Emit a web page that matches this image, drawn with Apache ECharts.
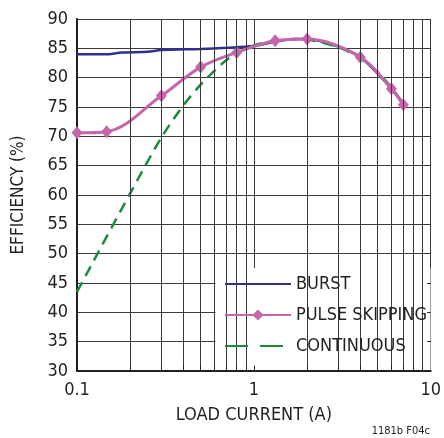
<!DOCTYPE html>
<html>
<head>
<meta charset="utf-8">
<script src="https://cdn.jsdelivr.net/npm/echarts@6/dist/echarts.min.js"></script>
<style>
  html, body { margin: 0; padding: 0; background: #fff; }
  #chart { width: 444px; height: 438px; }
</style>
</head>
<body>
<div id="chart"></div>
<script>
// values
const burstX = [0.1, 0.15, 0.18, 0.25, 0.3, 0.5, 0.7, 1, 1.3, 1.7, 2, 3, 4, 6, 7]
const burstY = [84.0, 84.0, 84.3, 84.4, 84.7, 84.9, 85.1, 85.4, 86.1, 86.6, 86.6, 85.3, 83.5, 78.1, 75.4]

const pulseX = [0.1, 0.147, 0.3, 0.5, 0.8, 1.32, 2, 4, 6, 7]
const pulseY = [70.6, 70.8, 76.9, 81.8, 84.3, 86.3, 86.6, 83.5, 78.1, 75.4]

const contX = [0.1, 0.2, 0.3, 0.4, 0.5, 0.6, 0.7, 0.8, 1, 1.3, 1.7, 2, 3, 4, 5, 6, 7]
const contY = [43.5, 60.3, 69.8, 75.3, 78.8, 81.2, 83.0, 84.2, 85.5, 86.3, 86.6, 86.5, 85.2, 83.3, 81.0, 78.3, 75.6]

const minorX = [0.2, 0.3, 0.4, 0.5, 0.6, 0.7, 0.8, 0.9, 2, 3, 4, 5, 6, 7, 8, 9]
const rightTickY = [35, 40, 45]

const FONT = '"Liberation Sans Narrow", "DejaVu Sans Condensed", "Liberation Sans", sans-serif'
const INK = '#231f20'
const GRID = '#3a3a3a'

const zip = (xs, ys) => xs.map((x, i) => [x, ys[i]])

const chart = echarts.init(document.getElementById('chart'), null, { renderer: 'canvas' })

// short inner ticks, only visible where the legend box hides the grid
const bottomTicks = minorX.concat([1]).map(x => [{ coord: [x, 30] }, { coord: [x, 30.9] }])
const rightTicks = rightTickY.map(y => [{ coord: [9.55, y] }, { coord: [10, y] }])

chart.setOption({
  animation: false,
  grid: { left: 77, right: 13, top: 19, bottom: 67 },
  xAxis: {
    type: 'log',
    logBase: 10,
    min: 0.1,
    max: 10,
    name: 'LOAD CURRENT (A)',
    nameLocation: 'middle',
    nameGap: 35,
    nameTextStyle: { fontFamily: FONT, fontSize: 18, color: INK },
    axisLine: { lineStyle: { color: INK, width: 2 } },
    axisTick: { show: false },
    axisLabel: { fontFamily: FONT, fontSize: 18, color: INK, margin: 10 },
    splitLine: { show: true, lineStyle: { color: GRID, width: 1 } },
  },
  yAxis: {
    type: 'value',
    min: 30,
    max: 90,
    interval: 5,
    name: 'EFFICIENCY (%)',
    nameLocation: 'middle',
    nameGap: 50,
    nameTextStyle: { fontFamily: FONT, fontSize: 17, color: INK },
    axisLine: { show: true, lineStyle: { color: INK, width: 2 } },
    axisTick: { show: false },
    axisLabel: { fontFamily: FONT, fontSize: 18, color: INK, margin: 9 },
    splitLine: { show: true, lineStyle: { color: GRID, width: 1 } },
  },
  legend: {
    orient: 'vertical',
    left: 224,
    top: 274,
    padding: 0,
    itemWidth: 66,
    itemHeight: 14,
    itemGap: 11,
    z: 6,
    textStyle: { fontFamily: FONT, fontSize: 18, color: INK, lineHeight: 20 },
    data: [
      { name: 'BURST', itemStyle: { opacity: 0 } },
      { name: 'PULSE SKIPPING' },
      { name: 'CONTINUOUS', itemStyle: { opacity: 0 }, lineStyle: { type: [23, 12] } },
    ],
  },
  graphic: {
    elements: [
      {
        type: 'rect',
        z: 3,
        silent: true,
        shape: { x: 215.5, y: 268, width: 215, height: 102 },
        style: { fill: '#fff' },
      },
      {
        type: 'text',
        right: 14,
        top: 426,
        style: { text: '1181b F04c', font: '11px ' + FONT, fill: INK },
      },
    ],
  },
  series: [
    {
      // minor log gridlines
      name: '__grid',
      type: 'line',
      data: [[1, 30]],
      symbol: 'none',
      lineStyle: { opacity: 0 },
      silent: true,
      z: 1,
      markLine: {
        silent: true,
        symbol: 'none',
        label: { show: false },
        lineStyle: { color: GRID, width: 1, type: 'solid' },
        data: minorX.map(x => ({ xAxis: x })),
      },
    },
    {
      name: '__ticks',
      type: 'line',
      data: [[1, 30]],
      symbol: 'none',
      lineStyle: { opacity: 0 },
      silent: true,
      z: 5,
      markLine: {
        silent: true,
        symbol: 'none',
        label: { show: false },
        lineStyle: { color: INK, width: 1, type: 'solid' },
        data: bottomTicks.concat(rightTicks),
      },
    },
    {
      name: 'BURST',
      type: 'line',
      data: zip(burstX, burstY),
      smooth: 0.3,
      symbol: 'none',
      z: 4,
      lineStyle: { color: '#2e3192', width: 2.5 },
      itemStyle: { color: '#2e3192' },
    },
    {
      name: 'CONTINUOUS',
      type: 'line',
      data: zip(contX, contY),
      smooth: 0.3,
      symbol: 'none',
      z: 4,
      lineStyle: { color: '#1b8a3f', width: 2.5, type: [11, 7] },
      itemStyle: { color: '#1b8a3f' },
    },
    {
      name: 'PULSE SKIPPING',
      type: 'line',
      data: zip(pulseX, pulseY),
      smooth: 0.35,
      symbol: 'diamond',
      symbolSize: [11, 13],
      z: 4,
      lineStyle: { color: '#c566ac', width: 3 },
      itemStyle: { color: '#c566ac' },
    },
  ],
})
</script>
</body>
</html>
